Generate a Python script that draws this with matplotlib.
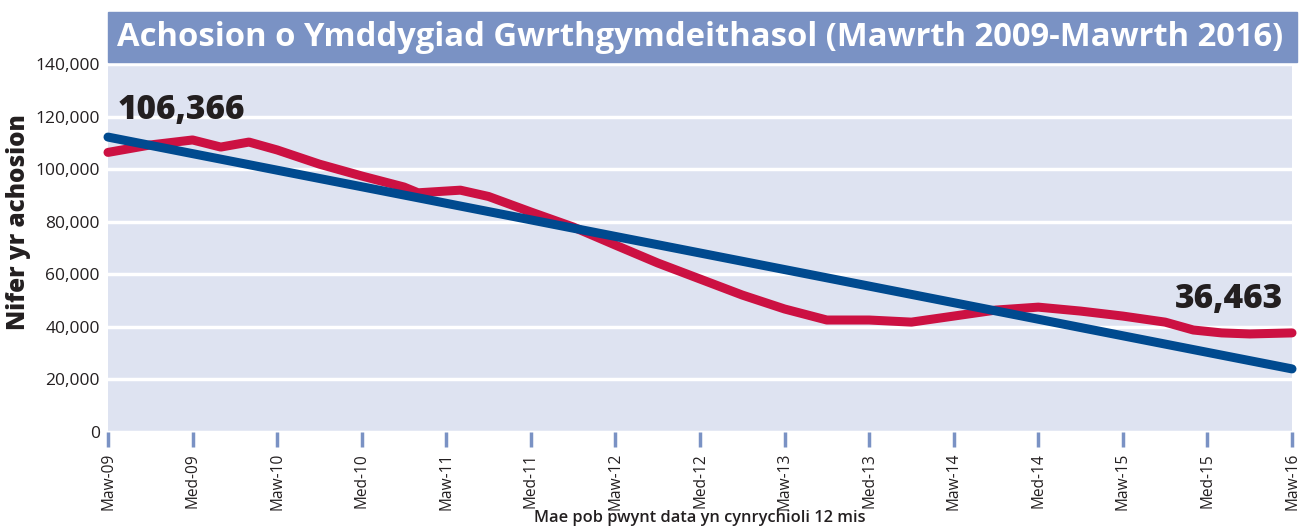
import matplotlib.pyplot as plt
from matplotlib.patches import Rectangle

# months since March 2009, and number of cases
months = [0, 3, 6, 8, 10, 12, 15, 18, 21, 22, 25, 27, 30, 33, 36, 39, 42, 45,
          48, 51, 54, 57, 60, 63, 66, 69, 72, 75, 76, 77, 79, 81, 84]
cases = [106366, 109200, 111100, 108400, 110300, 107300, 101900, 97400, 93200,
         91000, 92000, 89600, 83700, 78000, 71100, 64300, 58200, 52100,
         46800, 42600, 42600, 41800, 44100, 46400, 47500, 46000, 44100, 41800,
         40300, 38800, 37700, 37300, 37700]

# trend line end points
trend_months = [0, 84]
trend_cases = [112200, 24000]

tick_months = list(range(0, 85, 6))
tick_labels = ["Maw-09", "Med-09", "Maw-10", "Med-10", "Maw-11", "Med-11", "Maw-12",
               "Med-12", "Maw-13", "Med-13", "Maw-14", "Med-14", "Maw-15", "Med-15",
               "Maw-16"]

title = "Achosion o Ymddygiad Gwrthgymdeithasol (Mawrth 2009-Mawrth 2016)"
first_label = "106,366"
last_label = "36,463"

bar_col = "#7a92c4"
bg_col = "#dee3f1"
red = "#cc1142"
blue = "#004a8f"
txt = "#231f20"

plt.rcParams['font.family'] = ['Open Sans', 'DejaVu Sans']

fig = plt.figure(figsize=(13.09, 5.26), dpi=100)
W, H = 1309, 526
ax = fig.add_axes([108 / W, 1 - 432 / H, (1292 - 108) / W, (432 - 64) / H])
ax.set_facecolor(bg_col)
for s in ax.spines.values():
    s.set_visible(False)

ax.plot(months, cases, color=red, lw=6.5, solid_capstyle='round',
        solid_joinstyle='round', clip_on=False, zorder=3)
ax.plot(trend_months, trend_cases, color=blue, lw=6.5, solid_capstyle='round',
        clip_on=False, zorder=4)

ax.set_xlim(0, 84)
ax.set_ylim(0, 140000)
ax.set_yticks(range(0, 140001, 20000))
ax.set_yticklabels([f"{v:,}" for v in range(0, 140001, 20000)], fontsize=12.5, color=txt)
ax.tick_params(axis='y', length=0, pad=6)
ax.grid(axis='y', color='white', lw=2.5)
ax.set_axisbelow(True)

ax.set_xticks(tick_months)
ax.set_xticklabels(tick_labels, rotation=90, fontsize=11.2, color=txt)
ax.tick_params(axis='x', length=11, width=2.5, color=bar_col, pad=4)

ax.set_ylabel("Nifer yr achosion", fontsize=17.5, fontweight='heavy', color=txt)
ax.yaxis.set_label_coords(-0.065, 0.57)
ax.set_xlabel("Mae pob pwynt data yn cynrychioli 12 mis", fontsize=11.8, fontweight='semibold',
              color=txt, labelpad=0)

ax.text(0.7, 116000, first_label, fontsize=24, fontweight='heavy', color=txt,
        ha='left', va='bottom')
ax.text(83.4, 44000, last_label, fontsize=24, fontweight='heavy', color=txt,
        ha='right', va='bottom')

# title bar
fig.patches.append(Rectangle((108 / W, 1 - 62 / H), (1297 - 108) / W, 50 / H,
                             transform=fig.transFigure, color=bar_col, zorder=0))
fig.text(700 / W, 1 - 37 / H, title, fontsize=23.6, fontweight='bold', color='white',
         ha='center', va='center')

fig.savefig("out.png", dpi=100)
